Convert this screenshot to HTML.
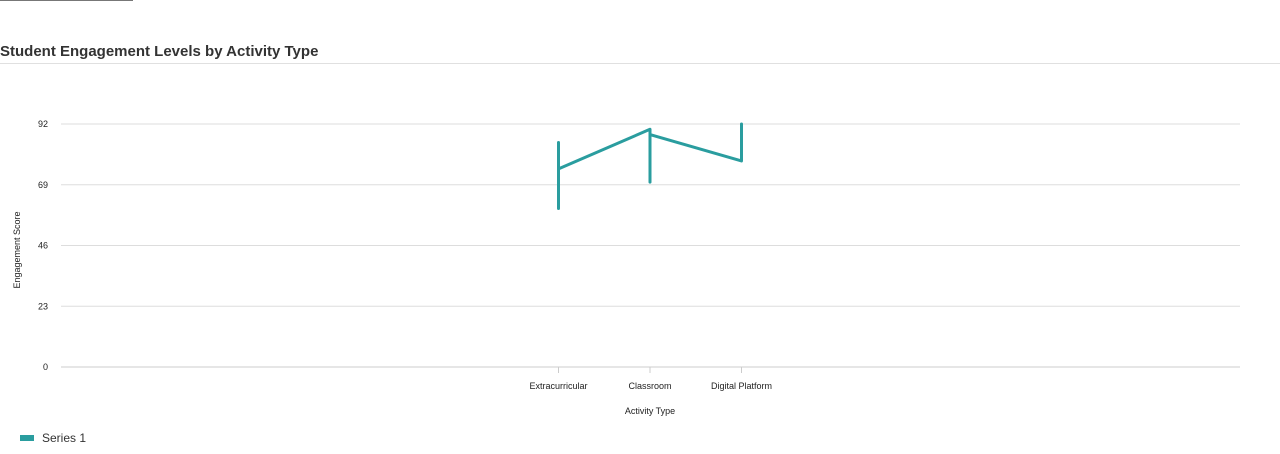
<!DOCTYPE html>
<html><head><meta charset="utf-8"><style>
body{margin:0;width:1280px;height:454px;background:#fff;font-family:"Liberation Sans",sans-serif;overflow:hidden;position:relative}
#topbar{position:absolute;left:0;top:0;width:133px;height:1px;background:#777}
#title{position:absolute;left:0;top:43px;font-size:15px;font-weight:bold;color:#333}
#sep{position:absolute;left:0;top:63px;width:1280px;height:1px;background:#e0e0e0}
svg{position:absolute;left:0;top:0}
</style></head><body>
<div id="topbar"></div>
<div id="title">Student Engagement Levels by Activity Type</div>
<div id="sep"></div>
<svg width="1280" height="454">
<g id="grid"></g><g id="xax"></g><path id="line" fill="none" stroke="#2a9d9f" stroke-width="3" stroke-linejoin="round" stroke-linecap="round"></path>
<text x="20" y="250" transform="rotate(-90 20 250)" text-anchor="middle" font-size="9" fill="#222">Engagement Score</text>
<text x="650" y="414" text-anchor="middle" font-size="9" fill="#222">Activity Type</text>
<rect x="20" y="435" width="14" height="6" fill="#2a9d9f"></rect>
<text x="42" y="442" font-size="12" fill="#333">Series 1</text>
</svg>
<script>
const categories=["Extracurricular","Classroom","Digital Platform"];
const pointCats=[0,0,0,1,1,1,2,2];
const values=[85,60,75,90,70,88,78,92];
const yTicks=[0,23,46,69,92];
const ns="http://www.w3.org/2000/svg";
const y=v=>367-v*(243/92);
const x=i=>650+(i-1)*91.5;
const grid=document.getElementById('grid');
yTicks.forEach(t=>{
 const l=document.createElementNS(ns,'line');
 l.setAttribute('x1',61);l.setAttribute('x2',1240);l.setAttribute('y1',y(t));l.setAttribute('y2',y(t));
 l.setAttribute('stroke',t===0?'#ccc':'#ddd');
 
 
 grid.appendChild(l);
 const tx=document.createElementNS(ns,'text');
 tx.setAttribute('x',48);tx.setAttribute('y',y(t)+3);tx.setAttribute('text-anchor','end');tx.setAttribute('font-size','9');tx.setAttribute('fill','#222');
 tx.textContent=t;
 
 
 grid.appendChild(tx);
});
const xax=document.getElementById('xax');
categories.forEach((c,i)=>{
 const l=document.createElementNS(ns,'line');
 l.setAttribute('x1',x(i));l.setAttribute('x2',x(i));l.setAttribute('y1',367);l.setAttribute('y2',373);l.setAttribute('stroke','#ccc');
 
 
 xax.appendChild(l);
 const tx=document.createElementNS(ns,'text');
 tx.setAttribute('x',x(i));tx.setAttribute('y',389);tx.setAttribute('text-anchor','middle');tx.setAttribute('font-size','9');tx.setAttribute('fill','#222');
 tx.textContent=c;
 
 
 xax.appendChild(tx);
});
document.getElementById('line').setAttribute('d',values.map((v,k)=>(k?'L':'M')+x(pointCats[k])+','+y(v)).join(' '));
</script>
</body></html>
